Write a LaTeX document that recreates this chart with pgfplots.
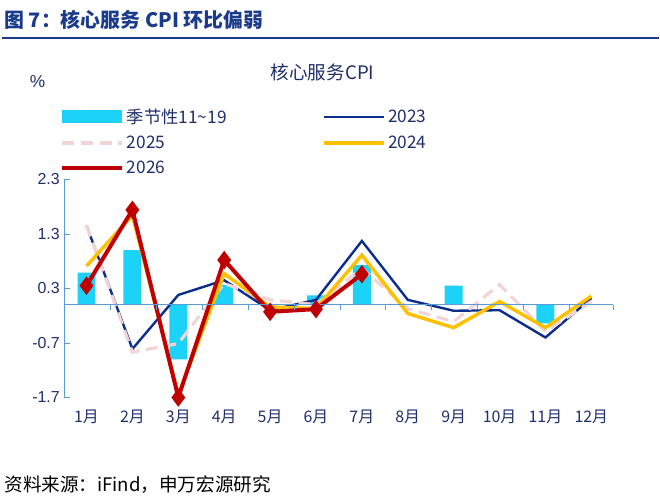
\documentclass[border=0pt]{standalone}
\usepackage{pgfplots}
\pgfplotsset{compat=1.18}
\usepackage{fontspec}
\setmainfont{Liberation Sans}
\newfontfamily\cjk{Noto Sans CJK SC}
\definecolor{navyc}{HTML}{0B2D8E}
\definecolor{goldc}{HTML}{FFC000}
\definecolor{pinkc}{HTML}{F2D3D6}
\definecolor{redc}{HTML}{C00000}
\definecolor{cyanc}{HTML}{1CD3F7}
\definecolor{txtc}{HTML}{1F2F6B}
\definecolor{hdc}{HTML}{1A3A8C}
\definecolor{axc}{HTML}{5B9BD5}
\begin{document}
\begin{tikzpicture}
\path (0,0) rectangle (495pt,373.5pt);
\node[anchor=west,text=hdc,font=\cjk\bfseries\fontsize{15}{17}\selectfont] at (-1.5pt,358.5pt) {图 7：核心服务 CPI 环比偏弱};
\draw[hdc,line width=1.2pt] (0,345pt) -- (495pt,345pt);
\node[anchor=west,text=black,font=\cjk\fontsize{14}{16}\selectfont] at (-1.5pt,9pt) {资料来源：iFind，申万宏源研究};
\node[text=txtc,font=\cjk\fontsize{14}{16}\selectfont] at (241.5pt,318.75pt) {核心服务CPI};
\node[text=txtc,font=\fontsize{13}{15}\selectfont] at (27pt,312pt) {\%};
\begin{axis}[at={(47.25pt,74.25pt)},anchor=south west,scale only axis,
  width=413.25pt,height=164.25pt,
  xmin=0.52,xmax=12.48,ymin=-1.7,ymax=2.3,
  axis y line*=left, axis x line*=bottom,
  x axis line style={draw=none},
  y axis line style={axc},
  ytick={-1.7,-0.7,0.3,1.3,2.3},
  yticklabels={-1.7,-0.7,0.3,1.3,2.3},
  ytick style={axc},major tick length=4pt,
  xtick={1,...,12},xtick style={draw=none},
  xticklabels={1月,2月,3月,4月,5月,6月,7月,8月,9月,10月,11月,12月},
  x tick label style={font=\cjk\fontsize{12}{14}\selectfont,text=txtc,yshift=-6pt},
  y tick label style={font=\fontsize{12}{14}\selectfont,text=txtc},
  /pgf/number format/assume math mode=true,
  clip=false,
  legend columns=2,
  legend style={at={(-0.015,1.35)},anchor=north west,draw=none,fill=none,
    font=\cjk\fontsize{13}{15}\selectfont,text=txtc,row sep=4pt,
    /tikz/every even column/.style={column sep=70pt}},
  legend cell align=left,
  legend image code/.code={\draw[#1] (0pt,0pt) -- (45pt,0pt);},
]
\addplot[ybar,bar width=13.5pt,fill=cyanc,draw=none,
  legend image code/.code={\fill[cyanc] (0pt,-5pt) rectangle (45pt,5pt);}]
 coordinates {(1,0.59)(2,1.0)(3,-1.0)(4,0.36)(5,0.01)(6,0.17)(7,0.73)(8,0.0)(9,0.35)(10,0.02)(11,-0.34)(12,0.0)};
\addlegendentry{季节性11\textasciitilde19}
\addplot[navyc,line width=1.8pt] coordinates {(1,1.45)(2,-0.81)(3,0.18)(4,0.45)(5,-0.1)(6,0.09)(7,1.17)(8,0.09)(9,-0.11)(10,-0.1)(11,-0.6)(12,0.12)};
\addlegendentry{2023}
\addplot[pinkc,line width=2.4pt,dash pattern=on 9pt off 5pt] coordinates {(1,1.46)(2,-0.87)(3,-0.71)(4,0.39)(5,0.09)(6,0)(7,0.67)(8,-0.07)(9,-0.31)(10,0.37)(11,-0.49)(12,0.06)};
\addlegendentry{2025}
\addplot[goldc,line width=2.6pt] coordinates {(1,0.71)(2,1.64)(3,-1.65)(4,0.57)(5,-0.04)(6,-0.07)(7,0.91)(8,-0.16)(9,-0.42)(10,0.06)(11,-0.42)(12,0.16)};
\addlegendentry{2024}
\addplot[redc,line width=3pt,mark=diamond*,mark size=4.5pt,mark options={solid}] coordinates {(1,0.35)(2,1.74)(3,-1.7)(4,0.82)(5,-0.13)(6,-0.08)(7,0.56)};
\addlegendentry{2026}
\draw[axc,line width=0.8pt] (axis cs:0.52,0) -- (axis cs:12.48,0);
\pgfplotsinvokeforeach{0.52,1.52,2.52,3.52,4.52,5.52,6.52,7.52,8.52,9.52,10.52,11.52,12.48}{\draw[axc] (axis cs:#1,0) -- ++(0pt,-4pt);}
\end{axis}
\end{tikzpicture}
\end{document}
